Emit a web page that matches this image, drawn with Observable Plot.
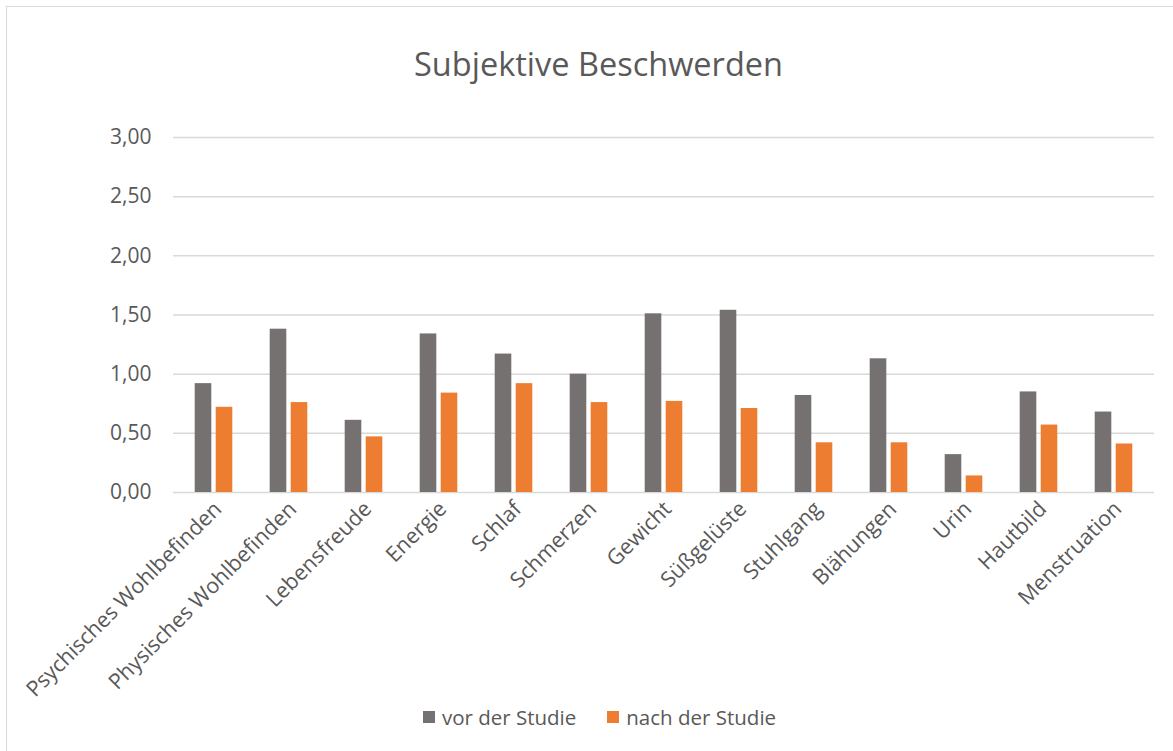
<!DOCTYPE html>
<html>
<head>
<meta charset="utf-8">
<script src="https://cdn.jsdelivr.net/npm/d3@7"></script>
<script src="https://cdn.jsdelivr.net/npm/@observablehq/plot@0.6"></script>
<style>
  html, body { margin: 0; padding: 0; background: #fff; }
  body { width: 1173px; height: 751px; overflow: hidden; position: relative; font-family: "Open Sans", sans-serif; color: #595959; }
  #frame { position: absolute; left: 6px; top: 6px; width: 1180px; height: 760px; border-left: 1.5px solid #d9d9d9; border-top: 1.5px solid #d9d9d9; box-sizing: border-box; }
  #title { position: absolute; left: 12px; top: 0; width: 1173px; height: 110px; text-align: center; font-size: 32.5px; line-height: 128px; }
  #chart { position: absolute; left: 0; top: 110px; }
  #chart svg { overflow: visible; }
  #legend { position: absolute; left: 13px; top: 700px; width: 1173px; height: 34px; display: flex; justify-content: center; align-items: center; font-size: 20.5px; gap: 31px; }
  .item { display: flex; align-items: center; }
  .sw { width: 12px; height: 12px; margin-right: 7px; display: inline-block; }
</style>
</head>
<body>
<div id="frame"></div>
<div id="title">Subjektive Beschwerden</div>
<div id="chart"></div>
<div id="legend"></div>
<script>
const categories = ["Psychisches Wohlbefinden", "Physisches Wohlbefinden", "Lebensfreude", "Energie", "Schlaf", "Schmerzen", "Gewicht", "Süßgelüste", "Stuhlgang", "Blähungen", "Urin", "Hautbild", "Menstruation"];
const seriesNames = ["vor der Studie", "nach der Studie"];
const vorValues = [0.92, 1.38, 0.61, 1.34, 1.17, 1.00, 1.51, 1.54, 0.82, 1.13, 0.32, 0.85, 0.68];
const nachValues = [0.72, 0.76, 0.47, 0.84, 0.92, 0.76, 0.77, 0.71, 0.42, 0.42, 0.14, 0.57, 0.41];
const yTicks = [0, 0.5, 1, 1.5, 2, 2.5, 3];
const yTickLabels = ["0,00", "0,50", "1,00", "1,50", "2,00", "2,50", "3,00"];
const colors = ["#767171", "#ED7D31"];

const vorData = categories.map((c, i) => ({category: c, value: vorValues[i]}));
const nachData = categories.map((c, i) => ({category: c, value: nachValues[i]}));

const chart = Plot.plot({
  width: 1173,
  height: 620,
  marginLeft: 173,
  marginRight: 19,
  marginTop: 27,
  marginBottom: 238,
  style: {fontFamily: "'Open Sans', sans-serif", color: "#595959", background: "transparent"},
  x: {domain: categories, padding: 0},
  y: {domain: [0, 3]},
  marks: [
    Plot.ruleY(yTicks, {stroke: "#d9d9d9", strokeWidth: 1.5}),
    Plot.barY(vorData, {x: "category", y: "value", fill: colors[0], insetLeft: 18.7, insetRight: 39.7}),
    Plot.barY(nachData, {x: "category", y: "value", fill: colors[1], insetLeft: 39.7, insetRight: 18.7}),
    Plot.axisY(yTicks, {tickSize: 0, tickPadding: 22, fontSize: 21, fill: "#595959", tickFormat: (d) => yTickLabels[yTicks.indexOf(d)], label: null}),
    Plot.axisX({tickSize: 0, tickRotate: -45, textAnchor: "end", lineAnchor: "top", tickPadding: 7, dx: -2, fontSize: 21.5, fill: "#595959", label: null})
  ]
});
document.getElementById("chart").appendChild(chart);

const legend = document.getElementById("legend");
seriesNames.forEach((name, i) => {
  const item = document.createElement("div");
  item.className = "item";
  const sw = document.createElement("span");
  sw.className = "sw";
  sw.style.background = colors[i];
  const label = document.createElement("span");
  label.textContent = name;
  item.appendChild(sw);
  item.appendChild(label);
  legend.appendChild(item);
});
</script>
</body>
</html>
